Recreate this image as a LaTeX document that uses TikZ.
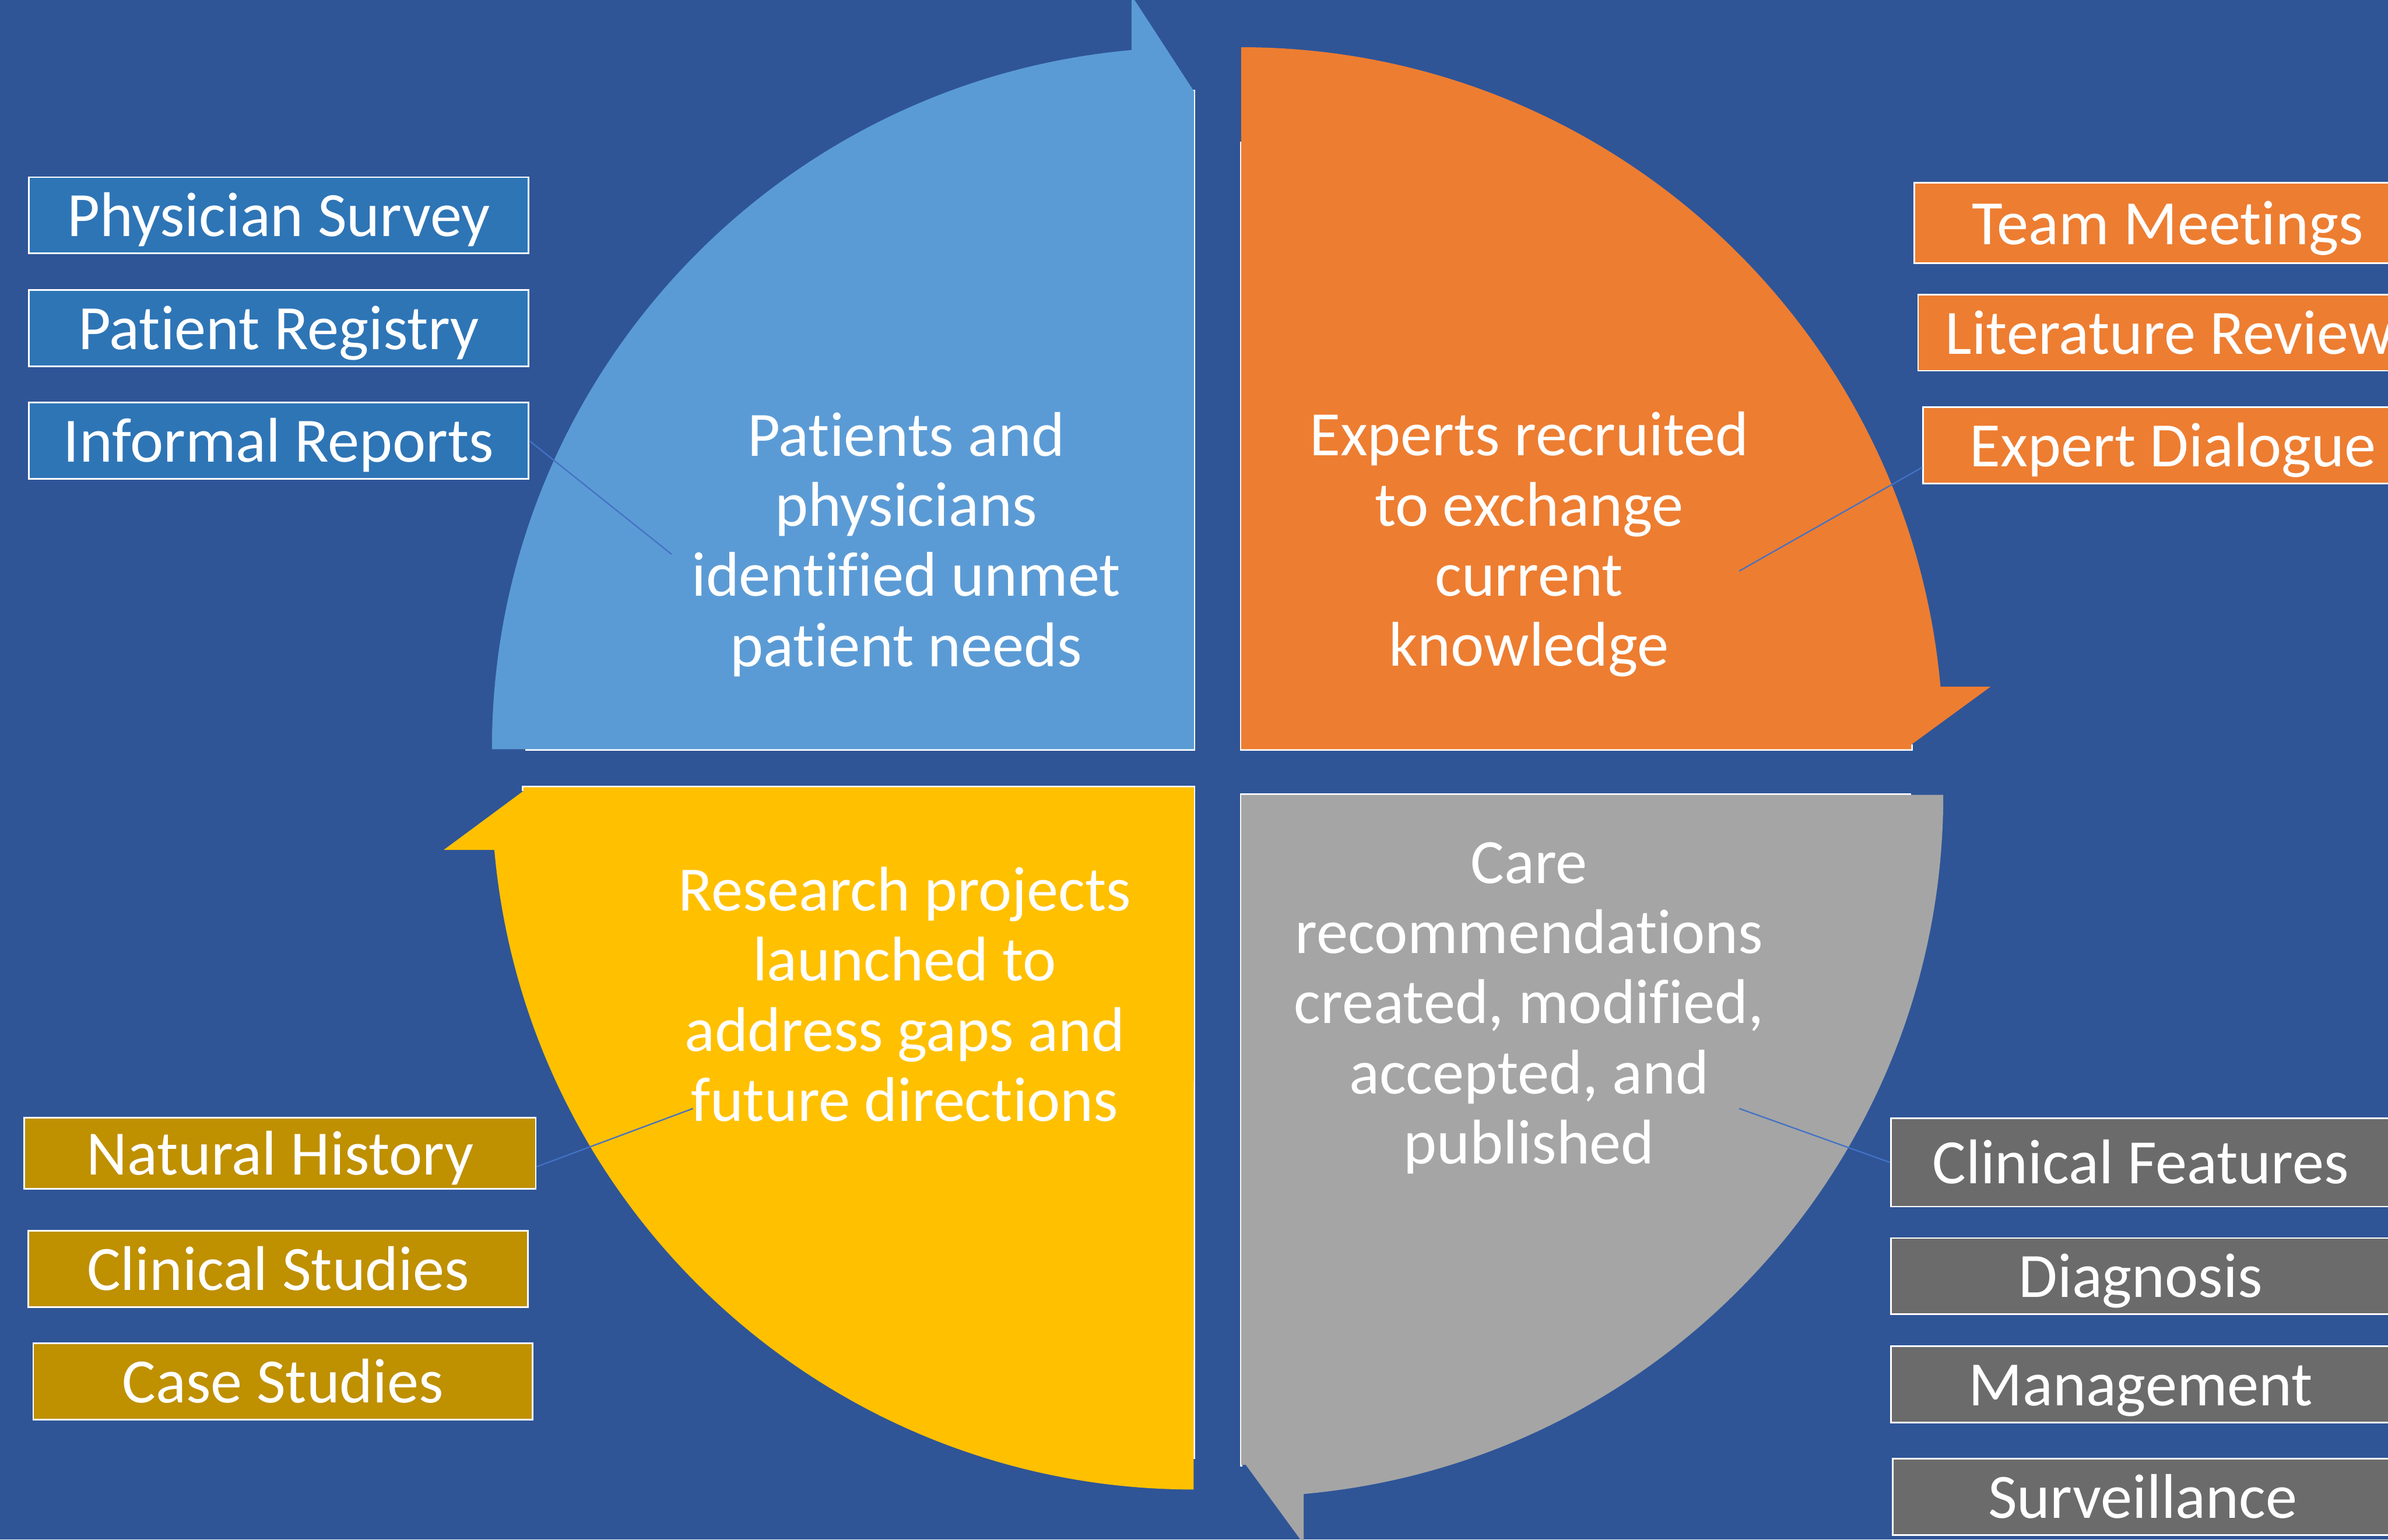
\documentclass[tikz,border=0pt]{standalone}
\usepackage{fontspec}
\setmainfont{Carlito}[Ligatures=NoCommon]
\usetikzlibrary{positioning}
\definecolor{backdrop}{HTML}{2F5597}
\definecolor{steel}{HTML}{5B9BD5}
\definecolor{ember}{HTML}{ED7D31}
\definecolor{amber}{HTML}{FFC000}
\definecolor{ash}{HTML}{A5A5A5}
\definecolor{cobalt}{HTML}{2E75B6}
\definecolor{ochre}{HTML}{BF9000}
\definecolor{slate}{HTML}{6B6B6B}
\definecolor{wire}{HTML}{4472C4}

\begin{document}
\begin{tikzpicture}[x=0.1mm,y=-0.1mm,
  tag/.style={draw=white,line width=0.3pt,text=white,inner sep=0pt,minimum width=32.8mm,minimum height=5mm,text height=3mm,text depth=0.2mm,font=\fontsize{11.8}{13}\selectfont},
  phase/.style={text=white,align=center,font=\fontsize{11.8}{13.1}\selectfont},
  link/.style={wire,line width=0.25pt},
  rim/.style={white,line width=0.5pt}]
\clip (0,0) rectangle (1568,1011);
\fill[backdrop] (0,0) rectangle (1568,1011);
% white edges along the inner sides of the four quarters
\draw[rim] (781,60) -- (784,60) -- (784,492) -- (345,492);
\draw[rim] (815,93) -- (815,492) -- (1255,492) -- (1255,489);
\draw[rim] (343.6,519.5) -- (343.6,517) -- (784,517) -- (784,958);
\draw[rim] (815,963) -- (815,522) -- (1255,522);
% the four quarters, each ending in a half arrow head
\fill[steel] (784,492) -- (323,492) arc[start angle=180,end angle=95.1,radius=46.1mm] -- (743,-3) -- (784,60) -- cycle;
\fill[ember] (815,492) -- (815,31) arc[start angle=90,end angle=5.1,radius=46.1mm] -- (1307,451) -- (1255,489) -- (1255,492) -- cycle;
\fill[amber] (784,517) -- (343.6,517) -- (343.6,519.5) -- (291.3,558.2) -- (324.6,558.2) arc[start angle=185.1,end angle=270,radius=46.1mm] -- cycle;
\fill[ash] (815,522) -- (1276,522) arc[start angle=0,end angle=-84.9,radius=46.1mm] -- (856,1014) -- (818,962) -- (815,962) -- cycle;

\node[phase] (needs) at (595,357.5) {Patients and\\physicians\\identified unmet\\patient needs};
\node[phase] (experts) at (1004,357.5) {Experts recruited\\to exchange\\current\\knowledge};
\node[phase] (research) at (594,653) {Research projects\\launched to\\address gaps and\\future directions};
\node[phase] (care) at (1004,662) {Care\\recommendations\\created, modified,\\accepted, and\\published};

\coordinate (needsin) at (441,364);
\coordinate (expertsin) at (1142,375);
\coordinate (researchin) at (455,728);
\coordinate (carein) at (1142,728);

\node[tag,fill=cobalt] (survey) at (183,141.4) {Physician Survey};
\node[tag,fill=cobalt] (registry) at (183,215.5) {Patient Registry};
\node[tag,fill=cobalt] (informal) at (183,289.4) {Informal Reports};

\node[tag,fill=ochre,minimum width=33.6mm,minimum height=4.65mm] (natural) at (183.8,757.4) {Natural History};
\node[tag,fill=ochre] (clinical) at (182.7,833.3) {Clinical Studies};
\node[tag,fill=ochre] (cases) at (185.8,907.3) {Case Studies};

\node[tag,fill=ember,anchor=west,minimum width=33.3mm,minimum height=5.3mm] (meetings) at (1256.3,146.4) {Team Meetings};
\node[tag,fill=ember,anchor=west,minimum width=33mm] (literature) at (1258.9,218.5) {Literature Review};
\node[tag,fill=ember,anchor=west,minimum width=32.8mm] (dialogue) at (1262.2,292.5) {Expert Dialogue};

\node[tag,fill=slate,anchor=west,minimum height=5.8mm] (features) at (1241,763.4) {Clinical Features};
\node[tag,fill=slate,anchor=west] (diagnosis) at (1241,838.1) {Diagnosis};
\node[tag,fill=slate,anchor=west] (management) at (1241,909.1) {Management};
\node[tag,fill=slate,anchor=west] (surveillance) at (1242.4,983) {Surveillance};

\draw[link] (informal.east) -- (needsin);
\draw[link] (dialogue.185) -- (expertsin);
\draw[link] (natural.-3.5) -- (researchin);
\draw[link] (features.west) -- (carein);
\end{tikzpicture}
\end{document}
